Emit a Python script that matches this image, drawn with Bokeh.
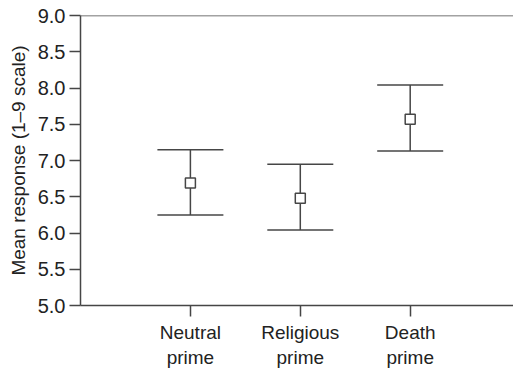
from bokeh.plotting import figure
from bokeh.models import (Range1d, FixedTicker, NumeralTickFormatter, Span,
                          ColumnDataSource, Whisker, TeeHead)
from bokeh.embed import file_html
from bokeh.resources import INLINE

# Mean ratings with error-bar bounds for each prime condition
conditions = ["Neutral\nprime", "Religious\nprime", "Death\nprime"]
positions = [1, 2, 3]
means = [6.69, 6.48, 7.57]
upper = [7.15, 6.95, 8.04]
lower = [6.25, 6.04, 7.13]
y_ticks = [5.0, 5.5, 6.0, 6.5, 7.0, 7.5, 8.0, 8.5, 9.0]

FONT = "Liberation Sans"
INK = "#464646"

src = ColumnDataSource(dict(x=positions, mean=means, upper=upper, lower=lower))

p = figure(width=513, height=370, output_backend="svg", toolbar_location=None,
           x_range=Range1d(0, 3.94), y_range=Range1d(5, 9),
           min_border_left=80, min_border_right=0, min_border_top=15,
           min_border_bottom=64)
p.background_fill_color = "white"
p.border_fill_color = "white"
p.outline_line_color = None
p.xgrid.visible = False
p.ygrid.visible = False

# error bars with wide flat caps
cap = dict(line_color=INK, line_width=1.5, size=66)
p.add_layout(Whisker(source=src, base="x", upper="upper", lower="lower",
                     line_color=INK, line_width=1.5,
                     upper_head=TeeHead(**cap), lower_head=TeeHead(**cap)))

# open square at each mean
p.scatter("x", "mean", source=src, marker="square", size=10,
          fill_color="white", line_color=INK, line_width=1.5)

# top rule of the frame
p.add_layout(Span(location=9, dimension="width", line_color=INK, line_width=1.5))

# y axis
ya = p.yaxis[0]
ya.ticker = FixedTicker(ticks=y_ticks)
ya.formatter = NumeralTickFormatter(format="0.0")
ya.axis_label = "Mean response (1\u20139 scale)"
ya.axis_label_text_font = FONT
ya.axis_label_text_font_size = "19px"
ya.axis_label_text_font_style = "normal"
ya.axis_label_text_color = "#222222"
ya.axis_label_standoff = 6
ya.major_label_text_font = FONT
ya.major_label_text_font_size = "20px"
ya.major_label_text_color = "#222222"
ya.major_label_standoff = 4
ya.major_tick_out = 11
ya.major_tick_in = 0
ya.minor_tick_out = 0
ya.minor_tick_in = 0
ya.axis_line_color = INK
ya.axis_line_width = 1.5
ya.major_tick_line_color = INK
ya.major_tick_line_width = 1.5

# x axis with two-line condition labels
xa = p.xaxis[0]
xa.ticker = FixedTicker(ticks=positions)
xa.major_label_overrides = {pos: lab for pos, lab in zip(positions, conditions)}
xa.major_label_text_font = FONT
xa.major_label_text_font_size = "19px"
xa.major_label_text_color = "#222222"
xa.major_label_standoff = 5
xa.major_tick_out = 11
xa.major_tick_in = 0
xa.minor_tick_out = 0
xa.minor_tick_in = 0
xa.axis_line_color = INK
xa.axis_line_width = 1.5
xa.major_tick_line_color = INK
xa.major_tick_line_width = 1.5

open("out.html", "w").write(file_html(p, INLINE))
